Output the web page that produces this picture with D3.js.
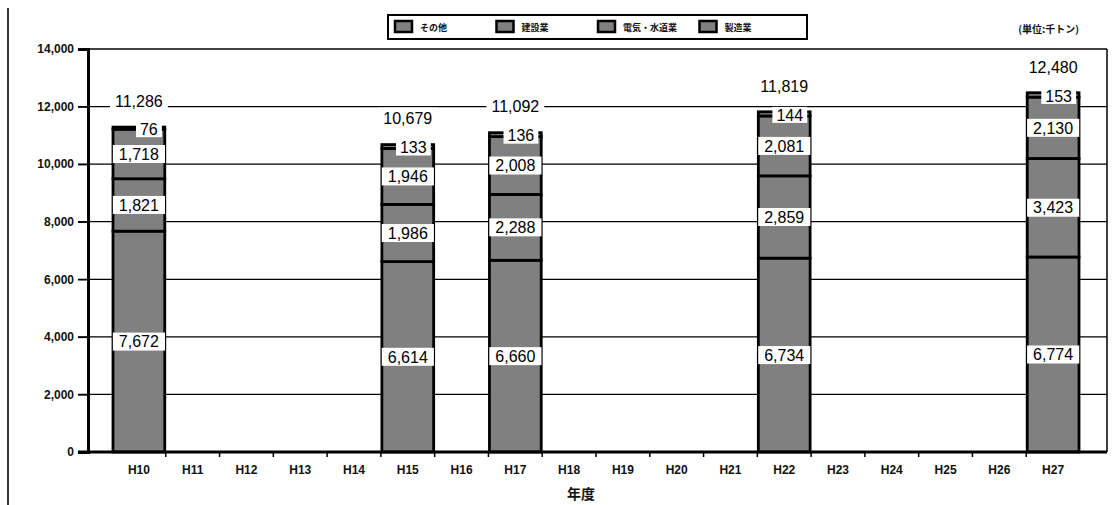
<!DOCTYPE html>
<html>
<head>
<meta charset="utf-8">
<script src="https://cdn.jsdelivr.net/npm/d3@7/dist/d3.min.js"></script>
<style>
  html, body { margin: 0; padding: 0; background: #fff; }
  svg { display: block; }
  .num { font-family: "Liberation Sans", Arial, sans-serif; }
  .jp { font-family: "Noto Sans CJK JP", sans-serif; }
</style>
</head>
<body>
<svg id="chart" width="1112" height="505"></svg>
<script>
// Fiscal years on the x axis
const categories = ["H10","H11","H12","H13","H14","H15","H16","H17","H18",
                    "H19","H20","H21","H22","H23","H24","H25","H26","H27"];
// Years that have survey data
const years = ["H10","H15","H17","H22","H27"];
// Series (thousand tonnes), bottom to top of each stack
const manufacturing = [7672, 6614, 6660, 6734, 6774];   // 製造業
const utilities     = [1821, 1986, 2288, 2859, 3423];   // 電気・水道業
const construction  = [1718, 1946, 2008, 2081, 2130];   // 建設業
const other         = [76, 133, 136, 144, 153];         // その他
const totals        = [11286, 10679, 11092, 11819, 12480];
// Legend order and y-axis ticks
const legendNames = ["その他", "建設業", "電気・水道業", "製造業"];
const stackKeys = ["製造業", "電気・水道業", "建設業", "その他"];
const yTicks = [0, 2000, 4000, 6000, 8000, 10000, 12000, 14000];

const rows = years.map((yr, i) => ({
  year: yr,
  "製造業": manufacturing[i],
  "電気・水道業": utilities[i],
  "建設業": construction[i],
  "その他": other[i],
  total: totals[i]
}));

const svg = d3.select("#chart");
const fmt = d3.format(",");

const plotLeft = 88, plotRight = 1107;
const x = d3.scaleBand().domain(categories).range([112, 1080]).padding(0);
const y = d3.scaleLinear().domain([0, 14000]).range([452, 49]);

// page frame edge
svg.append("line").attr("x1", 8).attr("x2", 8).attr("y1", 8).attr("y2", 505)
  .attr("stroke", "#333").attr("stroke-width", 2);

// gridlines and plot border
const grid = svg.append("g");
grid.selectAll("line.g").data(yTicks.filter(d => d > 0)).join("line")
  .attr("x1", plotLeft - 10).attr("x2", plotRight)
  .attr("y1", d => y(d)).attr("y2", d => y(d))
  .attr("stroke", "#000").attr("stroke-width", 1.3);
grid.append("line").attr("x1", plotRight).attr("x2", plotRight)
  .attr("y1", y(14000)).attr("y2", y(0))
  .attr("stroke", "#000").attr("stroke-width", 1.5);

// stacked bars
const stacked = d3.stack().keys(stackKeys)(rows);
const barG = svg.append("g");
stacked.forEach(layer => {
  barG.selectAll(null).data(layer).join("rect")
    .attr("x", d => x(d.data.year) + 1)
    .attr("width", x.bandwidth() - 2)
    .attr("y", d => y(d[1]))
    .attr("height", d => y(d[0]) - y(d[1]))
    .attr("fill", "#808080")
    .attr("stroke", "#000")
    .attr("stroke-width", 2.8);
});

// segment value labels on white boxes
function boxedLabel(g, text, cx, cy, anchor, padX, h) {
  const t = g.append("text").attr("class", "num")
    .attr("x", cx).attr("y", cy).attr("dy", "0.36em")
    .attr("text-anchor", anchor)
    .attr("font-size", 16).attr("fill", "#000").text(text);
  const bb = t.node().getBBox();
  g.insert("rect", "text")
    .attr("x", bb.x - padX).attr("width", bb.width + 2 * padX)
    .attr("y", cy - h / 2).attr("height", h)
    .attr("fill", "#fff");
}

const labG = svg.append("g");
stacked.forEach(layer => {
  layer.forEach(d => {
    const g = labG.append("g");
    const val = d.data[layer.key];
    const mid = (y(d[0]) + y(d[1])) / 2;
    if (layer.key === "その他") {
      const right = x(d.data.year) + x.bandwidth() - 8;
      boxedLabel(g, fmt(val), right, mid + 1, "end", 4, 16);
    } else {
      const cx = x(d.data.year) + x.bandwidth() / 2;
      boxedLabel(g, fmt(val), cx, mid, "middle", 6, 18);
    }
  });
});

// totals above each bar
const topLayer = stacked[stacked.length - 1];
topLayer.forEach(d => {
  const g = labG.append("g");
  const cx = x(d.data.year) + x.bandwidth() / 2;
  boxedLabel(g, fmt(d.data.total), cx, y(d[1]) - 26, "middle", 5, 22);
});

// y axis
const yAxis = svg.append("g").attr("transform", `translate(${plotLeft},0)`)
  .call(d3.axisLeft(y).tickValues(yTicks).tickSize(10).tickPadding(4).tickFormat(fmt));
yAxis.select(".domain").attr("stroke", "#000").attr("stroke-width", 3);
yAxis.selectAll(".tick line").attr("stroke", "#000").attr("stroke-width", 1.5);
yAxis.selectAll(".tick text").attr("class", "num")
  .attr("font-size", 12).attr("font-weight", "bold").attr("fill", "#111");

// x axis
svg.append("line").attr("x1", plotLeft - 10).attr("x2", plotRight)
  .attr("y1", y(0)).attr("y2", y(0)).attr("stroke", "#000").attr("stroke-width", 3);
svg.append("g").selectAll("line").data(categories.slice(1)).join("line")
  .attr("x1", d => x(d)).attr("x2", d => x(d))
  .attr("y1", y(0)).attr("y2", y(0) + 5)
  .attr("stroke", "#000").attr("stroke-width", 1.5);
const xAxis = svg.append("g").attr("transform", `translate(0,${y(0)})`)
  .call(d3.axisBottom(x).tickSize(0).tickPadding(13));
xAxis.select(".domain").remove();
xAxis.selectAll(".tick text").attr("class", "num")
  .attr("font-size", 12).attr("font-weight", "bold").attr("fill", "#111");

svg.append("text").attr("class", "jp")
  .attr("x", 581).attr("y", 499).attr("text-anchor", "middle")
  .attr("font-size", 14).attr("font-weight", "bold").attr("fill", "#111")
  .text("年度");

// legend
const leg = svg.append("g");
leg.append("rect").attr("x", 388).attr("y", 15).attr("width", 419).attr("height", 24)
  .attr("fill", "#fff").attr("stroke", "#000").attr("stroke-width", 2);
const legItems = leg.selectAll("g.item").data(legendNames).join("g")
  .attr("transform", (d, i) => `translate(${395 + i * 101.5},21)`);
legItems.append("rect").attr("width", 17).attr("height", 11)
  .attr("fill", "#808080").attr("stroke", "#000").attr("stroke-width", 2.5);
legItems.append("text").attr("class", "jp")
  .attr("x", 25).attr("y", 9.5).attr("font-size", 9).attr("font-weight", "bold")
  .attr("fill", "#111").text(d => d);

// unit note
svg.append("text").attr("class", "jp")
  .attr("x", 1079).attr("y", 33).attr("text-anchor", "end")
  .attr("font-size", 10).attr("font-weight", "bold").attr("fill", "#111")
  .text("(単位:千トン)");
</script>
</body>
</html>
